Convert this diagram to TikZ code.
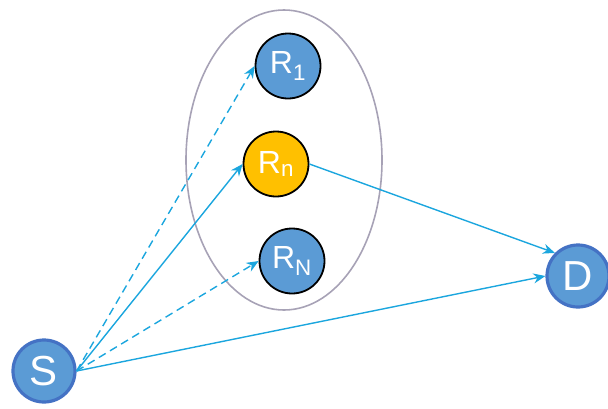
\documentclass[tikz,border=0pt]{standalone}
\usepackage{fontspec}
\setmainfont{Liberation Sans}
\usetikzlibrary{arrows.meta,shapes.geometric}
\definecolor{relay}{HTML}{5B9BD5}
\definecolor{chosen}{HTML}{FFC000}
\definecolor{edge}{HTML}{4472C4}
\definecolor{link}{HTML}{1BA6DE}
\definecolor{cluster}{HTML}{A7A2B6}

\begin{document}
\begin{tikzpicture}[x=1pt, y=-1pt,
    relaynode/.style={circle, draw=black, line width=1.8pt, fill=relay, minimum size=65pt, inner sep=0pt, text=white, font=\fontsize{32}{36}\selectfont},
    endnode/.style={circle, draw=edge, line width=3.2pt, fill=relay, minimum size=62pt, inner sep=0pt, text=white, font=\fontsize{42}{46}\selectfont},
    hop/.style={-{Stealth[length=12pt, width=10pt]}, draw=link, line width=1.4pt},
    trial/.style={hop, dash pattern=on 8pt off 5pt}
]
    \useasboundingbox (0,0) rectangle (608,408);
    % relay set
    \node[ellipse, draw=cluster, line width=1.6pt, minimum width=196pt, minimum height=300pt, inner sep=0pt] (set) at (284,160) {};
    \node[relaynode] (R1) at (288,66) {R\textsubscript{1}};
    \node[relaynode, fill=chosen] (Rn) at (276,164) {R\textsubscript{n}};
    \node[relaynode] (RN) at (292,261) {R\textsubscript{N}};
    \node[endnode] (S) at (44,371) {S};
    \node[endnode] (D) at (578,276) {D};
    % links
    \draw[trial] (S.east) -- (R1.west);
    \draw[hop] (S.east) -- (Rn.west);
    \draw[trial] (S.east) -- (RN.west);
    \draw[hop] (S.east) -- (D.west);
    \draw[hop] (Rn.east) -- (D.north west);
\end{tikzpicture}
\end{document}
